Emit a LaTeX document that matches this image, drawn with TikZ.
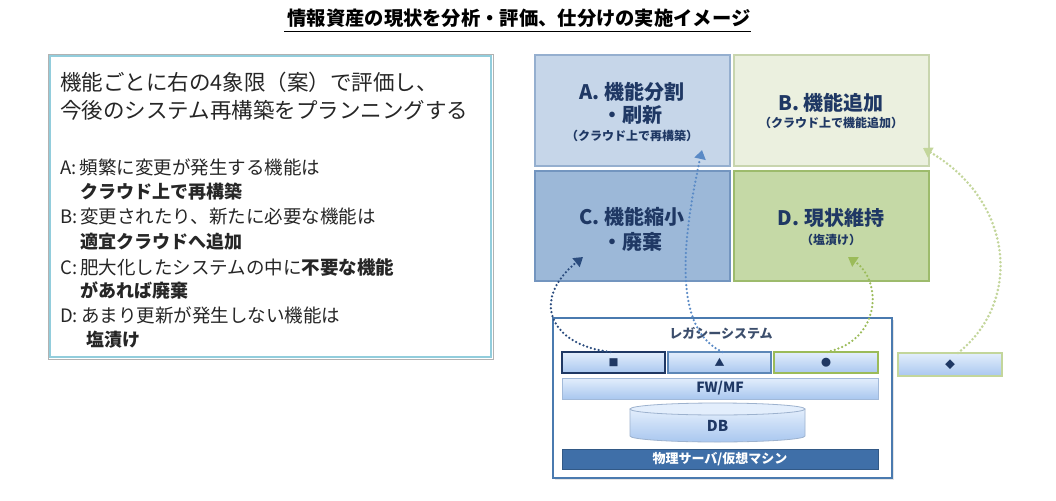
\documentclass[tikz,border=0pt]{standalone}
\usepackage{fontspec}
\setmainfont{Noto Sans CJK JP}
\usetikzlibrary{arrows.meta,calc,shadows}
\definecolor{navy}{HTML}{1F3864}
\definecolor{qAfill}{HTML}{C6D6E9}\definecolor{qAdraw}{HTML}{95AFCF}
\definecolor{qBfill}{HTML}{EBF0DF}\definecolor{qBdraw}{HTML}{C8D5AE}
\definecolor{qCfill}{HTML}{9CB8D8}\definecolor{qCdraw}{HTML}{7395BF}
\definecolor{qDfill}{HTML}{C5D9A6}\definecolor{qDdraw}{HTML}{9DBB6C}
\definecolor{legblue}{HTML}{4A7AAF}
\definecolor{physblue}{HTML}{3F6FA8}
\definecolor{boxtop}{HTML}{E3EEFC}\definecolor{boxbot}{HTML}{A9C7EF}
\definecolor{cyanb}{HTML}{92CDDC}
\definecolor{arrA}{HTML}{2B4C7E}\definecolor{arrB}{HTML}{5A8AC6}
\definecolor{arrC}{HTML}{9BBB59}\definecolor{arrD}{HTML}{C3D69B}
\definecolor{txt}{HTML}{262626}
\tikzset{
  quad/.style={rectangle, inner sep=0pt, outer sep=0pt, line width=1.3pt},
  qtext/.style={inner sep=0pt, text=navy, font=\bfseries\fontsize{20}{22}\selectfont},
  qsub/.style={inner sep=0pt, text=navy, font=\bfseries\fontsize{12}{13}\selectfont},
  body/.style={inner sep=0pt, anchor=west, text=txt, font=\fontsize{18.5}{20}\selectfont},
  bbody/.style={inner sep=0pt, anchor=west, text=txt, font=\bfseries\fontsize{18}{20}\selectfont},
  head/.style={inner sep=0pt, anchor=west, text=txt, font=\fontsize{21.5}{24}\selectfont},
  gbox/.style={rectangle, inner sep=0pt, outer sep=0pt, top color=boxtop, bottom color=boxbot, line width=1.2pt, text=navy, font=\fontsize{10}{11}\selectfont},
  dotarrow/.style={line width=2.5pt, line cap=round, dash pattern=on 0pt off 4pt, -{Triangle[length=9pt,width=11pt]}},
}
\begin{document}
\begin{tikzpicture}[x=1pt,y=-1pt]
\useasboundingbox (0,0) rectangle (1056,500);
\fill[white] (0,0) rectangle (1056,500);

% title
\node[inner sep=0pt, font=\bfseries\fontsize{19.3}{21}\selectfont] (title) at (519,18) {情報資産の現状を分析・評価、仕分けの実施イメージ};
\draw[line width=1.3pt] ($(title.south west)+(-3,4)$) -- ($(title.south east)+(0,4)$);

% left description box
\node[rectangle, inner sep=0pt, minimum width=445, minimum height=305, draw=gray!60, line width=0.6pt] (descout) at (270.5,206.5) {};
\node[rectangle, inner sep=0pt, minimum width=441, minimum height=301, draw=cyanb, fill=white, line width=2.4pt] (desc) at (270.5,206.5) {};
\node[head] (h1) at (60,82) {機能ごとに右の4象限（案）で評価し、};
\node[head] (h2) at (60,110) {今後のシステム再構築をプランニングする};
\node[body] (a1) at (60,167) {A:\hspace{3pt}頻繁に変更が発生する機能は};
\node[bbody] (a2) at (80,192) {クラウド上で再構築};
\node[body] (b1) at (60,216) {B:\hspace{3pt}変更されたり、新たに必要な機能は};
\node[bbody] (b2) at (80,242) {適宜クラウドへ追加};
\node[body] (c1) at (60,267) {C:\hspace{3pt}肥大化したシステムの中に\textbf{不要な機能}};
\node[bbody] (c2) at (80,291) {があれば廃棄};
\node[body] (d1) at (60,315) {D:\hspace{3pt}あまり更新が発生しない機能は};
\node[bbody] (d2) at (86,340) {塩漬け};

% quadrants
\node[quad, fill=qAfill, draw=qAdraw, minimum width=195, minimum height=111] (qA) at (632.5,110.5) {};
\node[quad, fill=qBfill, draw=qBdraw, minimum width=195, minimum height=111] (qB) at (831.5,110.5) {};
\node[quad, fill=qCfill, draw=qCdraw, minimum width=195, minimum height=110] (qC) at (632.5,226) {};
\node[quad, fill=qDfill, draw=qDdraw, minimum width=195, minimum height=110] (qD) at (831.5,226) {};
\node[qtext] (qAt1) at (632,92) {A. 機能分割};
\node[qtext] (qAt2) at (632,115) {・刷新};
\node[qsub] (qAt3) at (632,136) {（クラウド上で再構築）};
\node[qtext] (qBt1) at (831,103) {B. 機能追加};
\node[qsub] (qBt2) at (831,123) {（クラウド上で機能追加）};
\node[qtext] (qCt1) at (632,217) {C. 機能縮小};
\node[qtext] (qCt2) at (632,242) {・廃棄};
\node[qtext] (qDt1) at (831,218) {D. 現状維持};
\node[qsub] (qDt2) at (831,240) {（塩漬け）};

% legacy system
\node[rectangle, inner sep=0pt, minimum width=339, minimum height=160, draw=legblue, fill=white, line width=2pt, drop shadow={shadow xshift=1.5pt, shadow yshift=-1.5pt, fill=gray!40}] (legacy) at (722.5,398) {};
\node[inner sep=0pt, text=navy!70!gray, font=\bfseries\fontsize{13}{14}\selectfont] (legt) at (721,333) {レガシーシステム};
\node[gbox, draw=navy, minimum width=103, minimum height=21] (sq) at (613.5,362.5) {■};
\node[gbox, draw=legblue!90, minimum width=103, minimum height=21] (tri) at (719.5,362.5) {▲};
\node[gbox, draw=arrC, minimum width=104, minimum height=21] (circ) at (826,362.5) {●};
\node[gbox, draw=boxbot!80!gray, line width=0.8pt, minimum width=316, minimum height=21, font=\bfseries\fontsize{14}{15}\selectfont] (fw) at (720,388.5) {FW/MF};
% DB cylinder
\shade[top color=boxtop, bottom color=boxbot, draw=boxbot!70!gray, line width=0.8pt]
  (630,409) -- (630,436) arc[start angle=180, end angle=0, x radius=87.5, y radius=6] -- (805,409) -- cycle;
\filldraw[fill=boxtop, draw=boxbot!70!gray, line width=0.8pt] (717.5,409) ellipse[x radius=87.5, y radius=6];
\node[inner sep=0pt, text=navy, font=\bfseries\fontsize{15}{16}\selectfont] (db) at (717.5,426) {DB};
\node[rectangle, inner sep=0pt, minimum width=316, minimum height=20, fill=physblue, draw=physblue!80!black, line width=0.8pt, text=white, font=\bfseries\fontsize{13}{14}\selectfont] (phys) at (720,459) {物理サーバ/仮想マシン};
\node[gbox, draw=arrD, line width=1.4pt, minimum width=104, minimum height=23, drop shadow={shadow xshift=1pt, shadow yshift=-1pt, fill=gray!30}] (dia) at (950,364.5) {◆};

% arrows
\coordinate (eC) at (583,257);
\coordinate (eA) at (702,150);
\coordinate (eD) at (848,257);
\coordinate (eB) at (923,148);
\draw[dotarrow, arrA] ([xshift=-3pt]sq.north) .. controls (550,345) and (530,300) .. (eC);
\draw[dotarrow, arrB] ([xshift=3pt]tri.north) .. controls (675,330) and (680,250) .. (eA);
\draw[dotarrow, arrC] ([xshift=1pt]circ.north) .. controls (882,340) and (882,280) .. (eD);
\draw[dotarrow, arrD, line width=2.9pt] ([xshift=8pt]dia.north) .. controls (1024,300) and (1012,200) .. (eB);
\end{tikzpicture}
\end{document}
